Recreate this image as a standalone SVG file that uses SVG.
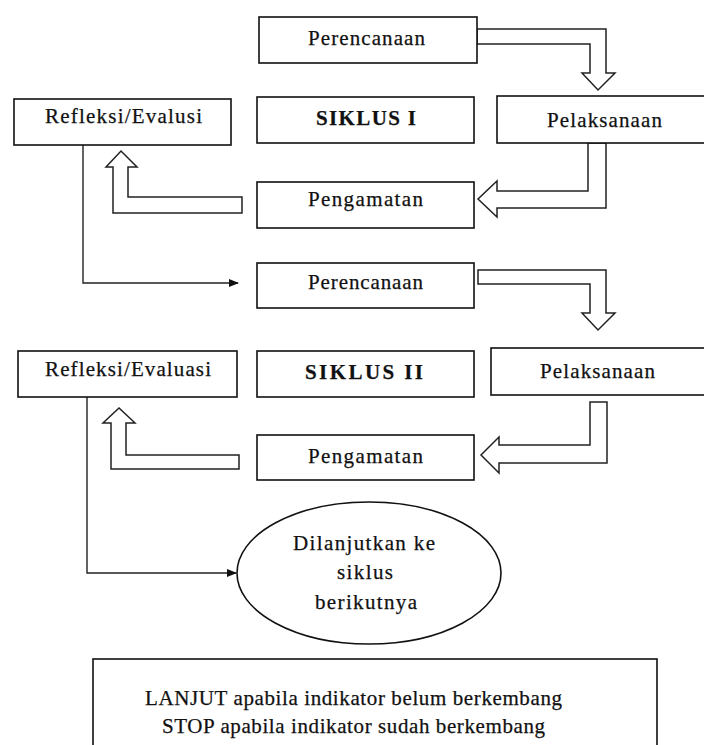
<svg xmlns="http://www.w3.org/2000/svg" width="704" height="745" viewBox="0 0 704 745">
<style>
.box{fill:#fff;stroke:#111;stroke-width:1.6}
.barrow{fill:#fff;stroke:#222;stroke-width:1.5;stroke-linejoin:miter}
.line{fill:none;stroke:#222;stroke-width:1.4}
.t{font-family:'Liberation Serif',serif;font-size:21px;fill:#111;text-anchor:middle;stroke:#111;stroke-width:0.25}
.b{font-weight:bold}
</style>
<defs>
<marker id="ah" markerWidth="10" markerHeight="8" refX="9" refY="4" orient="auto" markerUnits="userSpaceOnUse">
<path d="M0,0 L10,4 L0,8 Z" fill="#111"/>
</marker>
</defs>
<rect width="704" height="745" fill="#fff"/>

<g id="connectors">
<polygon class="barrow" points="477,29 606,29 606,73 615,73 598,90 582,73 590,73 590,44 477,44"/>
<polygon class="barrow" points="588,143 606,143 606,208 497,208 497,217 478,199 497,181 497,191 588,191"/>
<polygon class="barrow" points="242,197 242,213 113,213 113,167 106,167 121,151 137,167 128,167 128,197"/>
<polygon class="barrow" points="478,270 606,270 606,313 615,313 598,330 582,313 590,313 590,284 478,284"/>
<polygon class="barrow" points="590,402 607,402 607,463 499,463 499,473 481,455 499,437 499,445 590,445"/>
<polygon class="barrow" points="239,455 239,469 111,469 111,423 103,423 119,408 135,423 126,423 126,455"/>
<polyline class="line" points="83,145 83,283 238,283" marker-end="url(#ah)"/>
<polyline class="line" points="87,397 87,573 236,573" marker-end="url(#ah)"/>
</g>

<g id="perencanaan1"><rect class="box" x="259" y="17" width="218" height="46"/><text class="t" font-family="Liberation Serif, serif" x="366.5" y="45" textLength="117" lengthAdjust="spacing">Perencanaan</text></g>
<g id="siklus1"><rect class="box" x="257" y="97" width="217" height="46"/><text class="t b" font-family="Liberation Serif, serif" x="366" y="125" textLength="100" lengthAdjust="spacing">SIKLUS I</text></g>
<g id="pelaksanaan1"><rect class="box" x="497" y="96" width="215" height="47"/><text class="t" font-family="Liberation Serif, serif" x="604.5" y="127" textLength="115" lengthAdjust="spacing">Pelaksanaan</text></g>
<g id="pengamatan1"><rect class="box" x="257" y="182" width="217" height="46"/><text class="t" font-family="Liberation Serif, serif" x="365.5" y="206" textLength="115" lengthAdjust="spacing">Pengamatan</text></g>
<g id="refleksi1"><rect class="box" x="14" y="99" width="217" height="46"/><text class="t" font-family="Liberation Serif, serif" x="123.5" y="123" textLength="157" lengthAdjust="spacing">Refleksi/Evalusi</text></g>

<g id="perencanaan2"><rect class="box" x="257" y="263" width="217" height="45"/><text class="t" font-family="Liberation Serif, serif" x="365.5" y="289" textLength="115" lengthAdjust="spacing">Perencanaan</text></g>
<g id="siklus2"><rect class="box" x="257" y="351" width="217" height="46"/><text class="t b" font-family="Liberation Serif, serif" x="364" y="379" textLength="118" lengthAdjust="spacing">SIKLUS II</text></g>
<g id="pelaksanaan2"><rect class="box" x="491" y="348" width="220" height="47"/><text class="t" font-family="Liberation Serif, serif" x="597.5" y="378" textLength="115" lengthAdjust="spacing">Pelaksanaan</text></g>
<g id="pengamatan2"><rect class="box" x="257" y="435" width="217" height="45"/><text class="t" font-family="Liberation Serif, serif" x="365.5" y="463" textLength="115" lengthAdjust="spacing">Pengamatan</text></g>
<g id="refleksi2"><rect class="box" x="18" y="351" width="219" height="46"/><text class="t" font-family="Liberation Serif, serif" x="128" y="376" textLength="166" lengthAdjust="spacing">Refleksi/Evaluasi</text></g>

<g id="lanjut">
<ellipse class="box" cx="369" cy="573" rx="132" ry="71"/>
<text class="t" font-family="Liberation Serif, serif" x="364" y="550" textLength="142" lengthAdjust="spacing">Dilanjutkan ke</text>
<text class="t" font-family="Liberation Serif, serif" x="365" y="579" textLength="56" lengthAdjust="spacing">siklus</text>
<text class="t" font-family="Liberation Serif, serif" x="366" y="609" textLength="102" lengthAdjust="spacing">berikutnya</text>
</g>

<g id="keterangan">
<rect class="box" x="93" y="659" width="564" height="100"/>
<text class="t" font-family="Liberation Serif, serif" x="353.5" y="705" textLength="417" lengthAdjust="spacing">LANJUT apabila indikator belum berkembang</text>
<text class="t" font-family="Liberation Serif, serif" x="353.5" y="733" textLength="383" lengthAdjust="spacing">STOP apabila indikator sudah berkembang</text>
</g>
</svg>
